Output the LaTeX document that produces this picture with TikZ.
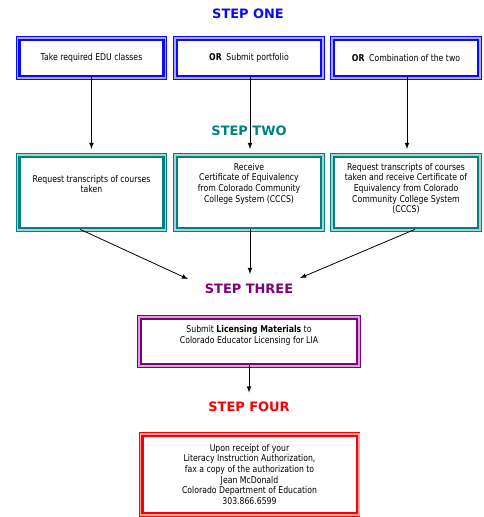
\documentclass[tikz,border=0pt]{standalone}
\usepackage{fontspec}
\setmainfont{DejaVu Sans}[FakeStretch=0.83]
\newfontfamily\titlefont{DejaVu Sans}
\usepackage{xcolor}
\usetikzlibrary{arrows}
\definecolor{stepblue}{RGB}{10,10,250}
\definecolor{stepteal}{RGB}{0,128,128}
\definecolor{steppurple}{RGB}{128,0,128}
\definecolor{stepred}{RGB}{250,0,0}
\tikzstyle{title}=[inner sep=0pt, font=\titlefont\fontsize{9.7}{11}\selectfont\bfseries]
\tikzstyle{box}=[align=center, inner sep=0pt, font=\fontsize{7}{8}\selectfont]
\tikzstyle{rowone}=[minimum width=108pt, minimum height=27pt]
\tikzstyle{rowtwo}=[minimum width=108pt, minimum height=53.25pt]
\tikzset{framed/.style={preaction={draw=#1, line width=5.4pt},
    preaction={draw=#1!35, line width=4pt},
    fill=white, draw=#1, line width=2pt}}
\tikzset{>=latex}
\newcommand{\toplines}[2]{\parbox[c][44pt][t]{106pt}{\centering\vspace*{#1}#2}}

\begin{document}
\begin{tikzpicture}[x=0.75pt, y=-0.75pt]
    \useasboundingbox (0, 0) rectangle (483, 517);

    \draw node at (248, 13.5) [title, text=stepblue] (one) {STEP ONE};
    \draw node at (91.5, 58) [framed=stepblue, box, rowone] (edu) {Take required EDU classes};
    \draw node at (249, 58) [framed=stepblue, box, rowone] (port) {\textbf{OR}\enspace Submit portfolio};
    \draw node at (406, 58) [framed=stepblue, box, rowone] (comb) {\textbf{OR}\enspace Combination of the two};

    \draw node at (249, 131) [title, text=stepteal] (two) {STEP TWO};
    \draw node at (91.5, 192.5) [framed=stepteal, box, rowtwo] (req)
        {\toplines{9pt}{Request transcripts of courses\\ taken}};
    \draw node at (249, 192.5) [framed=stepteal, box, rowtwo] (cert)
        {\toplines{0pt}{Receive\\ Certificate of Equivalency\\ from Colorado Community\\ College System (CCCS)}};
    \draw node at (406, 192.5) [framed=stepteal, box, rowtwo] (both)
        {\toplines{0pt}{Request transcripts of courses\\ taken and receive Certificate of\\ Equivalency from Colorado\\ Community College System\\ (CCCS)}};

    \draw node at (249, 288.5) [title, text=steppurple] (three) {STEP THREE};
    \draw node at (249, 341.5) [framed=steppurple, box, minimum width=162pt, minimum height=33.75pt] (lic)
        {Submit \textbf{Licensing Materials} to\\ Colorado Educator Licensing for LIA\\[3pt]};

    \draw node at (249, 407) [title, text=stepred] (four) {STEP FOUR};
    \draw node at (249.5, 474.5) [framed=stepred, box, minimum width=161pt, minimum height=57.75pt] (fax)
        {Upon receipt of your\\ Literacy Instruction Authorization,\\ fax a copy of the authorization to\\
         Jean McDonald\\ Colorado Department of Education\\ 303.866.6599};

    \coordinate (inleft) at (188, 279);
    \coordinate (inright) at (300, 278);

    \draw [->, line width=0.6pt, shorten >=5pt] (edu) to (edu |- req.north);
    \draw [->, line width=0.6pt, shorten >=5pt] ([xshift=0.75pt]port.south) to ([xshift=0.75pt]cert.north);
    \draw [->, line width=0.6pt, shorten >=5pt] ([xshift=0.75pt]comb.south) to ([xshift=0.75pt]both.north);
    \draw [->, line width=0.6pt] ([xshift=-8.6pt]req.south) to (inleft);
    \draw [->, line width=0.6pt, shorten >=7pt] ([xshift=0.75pt]cert.south) to ([xshift=0.75pt]three.north);
    \draw [->, line width=0.6pt] ([xshift=6.75pt]both.south) to (inright);
    \draw [->, line width=0.6pt, shorten >=7pt] (lic) to (four.north);
\end{tikzpicture}
\end{document}
